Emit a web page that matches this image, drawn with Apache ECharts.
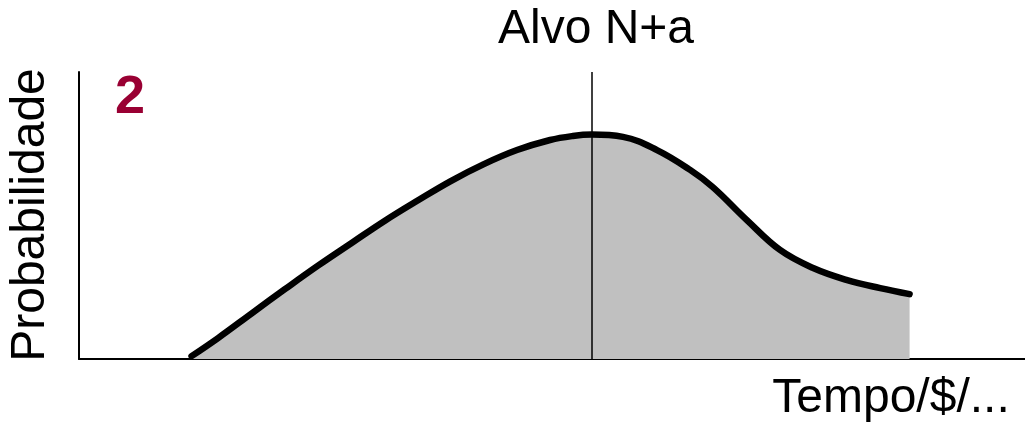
<!DOCTYPE html>
<html>
<head>
<meta charset="utf-8">
<script src="https://cdn.jsdelivr.net/npm/echarts@6/dist/echarts.min.js"></script>
<style>
  html, body { margin: 0; padding: 0; background: #fff; }
  #chart { width: 1025px; height: 424px; }
</style>
</head>
<body>
<div id="chart"></div>
<script>
// curva de probabilidade (eixos sem escala, 0..100)
var tempo = [11.9, 14.7, 18.3, 21.8, 25.3, 28.9, 32.3, 35.8, 39.3, 42.8, 46.3, 49.8, 52.2, 54.2, 57.5, 61.1, 64.6, 67.0, 70.6, 74.1, 77.6, 81.2, 84.7, 87.8];
var probabilidade = [1.0, 7.3, 16.0, 24.4, 32.6, 40.6, 48.1, 55.2, 62.0, 67.9, 72.8, 76.3, 77.7, 78.2, 77.4, 72.8, 65.9, 59.9, 48.4, 38.0, 31.7, 27.5, 24.7, 22.6];
var alvo = 54.2;

var pontos = tempo.map(function (t, i) { return [t, probabilidade[i]]; });

var chart = echarts.init(document.getElementById('chart'));
var font = '"Liberation Sans", Arial, sans-serif';

var option = {
  animation: false,
  grid: { left: 79, right: 0, top: 72, bottom: 65 },
  xAxis: {
    type: 'value', min: 0, max: 100,
    axisLine: { show: true, onZero: false, lineStyle: { color: '#000', width: 2 } },
    axisTick: { show: false }, axisLabel: { show: false }, splitLine: { show: false }
  },
  yAxis: {
    type: 'value', min: 0, max: 100,
    axisLine: { show: true, lineStyle: { color: '#000', width: 2 } },
    axisTick: { show: false }, axisLabel: { show: false }, splitLine: { show: false }
  },
  series: [{
    type: 'line',
    data: pontos,
    smooth: 0.4,
    symbol: 'none',
    lineStyle: { color: '#000', width: 6.5, cap: 'round', join: 'round' },
    areaStyle: { color: '#c0c0c0', opacity: 1 },
    markLine: {
      silent: true,
      symbol: 'none',
      label: { show: false },
      lineStyle: { color: '#000', width: 1.5, type: 'solid' },
      data: [{ xAxis: alvo }]
    }
  }],
  graphic: [
    { type: 'text', x: 596, y: 30, style: { text: 'Alvo N+a', font: '48px ' + font, fill: '#000', textAlign: 'center', textVerticalAlign: 'middle' } },
    { type: 'text', x: 130, y: 98, style: { text: '2', font: 'bold 54px ' + font, fill: '#990033', textAlign: 'center', textVerticalAlign: 'middle' } },
    { type: 'text', x: 31, y: 215, rotation: Math.PI / 2, style: { text: 'Probabilidade', font: '48px ' + font, fill: '#000', textAlign: 'center', textVerticalAlign: 'middle' } },
    { type: 'text', x: 891, y: 399, style: { text: 'Tempo/$/...', font: '48px ' + font, fill: '#000', textAlign: 'center', textVerticalAlign: 'middle' } }
  ]
};

chart.setOption(option);
</script>
</body>
</html>
